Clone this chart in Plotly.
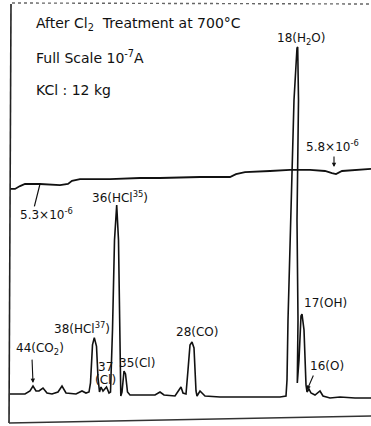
import plotly.graph_objects as go

# Mass spectrum trace: scan position (arb.) vs ion current (% of full scale)
scan_pos = [10, 25, 30, 33, 36, 39, 43, 47, 52, 58, 62, 66, 76, 82, 86, 89, 90.5, 92.5, 94.3, 96.5, 98,
            99.5, 101, 103, 106.5, 109, 110.5, 112.5, 114.5, 116.7, 118.5, 119.8, 120.8, 122, 124, 125.5,
            127.5, 130, 155, 160, 164, 175, 179, 181, 183, 186, 188, 190, 192, 194, 196, 197, 200, 203,
            205, 220, 250, 280, 286, 287, 288, 291, 292, 294, 297, 297.7, 298.5, 298, 297, 298, 297.3,
            299, 301, 302, 304, 306, 307, 309, 311, 315, 318, 320, 323, 330, 340, 355, 371]
ion_current = [0.29, 0.29, 1.15, 2.59, 1.15, 1.15, 2.01, 0.57, 0.29, 0.86, 2.59, 0.57, 0.29, 1.15, 0.57,
               0.86, 3.5, 14.4, 16.5, 14.0, 5.0, 0.86, 2.3, 1.15, 2.3, 0.57, 0.86, 18.7, 44.5, 54.6, 44.5,
               18.7, -0.29, 0.86, 6.9, 6.03, 0.86, 0.0, 0.0, 0.86, 0.0, -0.29, 1.44, 2.30, 0.57, 0.29,
               7.18, 14.37, 15.23, 13.51, 1.15, -0.29, 1.15, 0.29, -0.29, -0.57, -0.57, -0.57, -0.29,
               4.31, 21.55, 56.03, 70.4, 84.77, 99.71, 100.0, 84.77, 70.4, 50.29, 21.55, 3.45, 10.06,
               22.70, 23.28, 18.7, 2.87, 0.86, 1.72, 0.57, 0.0, 0.57, 1.15, -0.29, -0.86, -0.57, -0.86,
               -0.86]

# Total pressure trace (x10^-6)
press_pos = [10, 15, 20, 25, 40, 60, 68, 72, 80, 110, 140, 160, 200, 230, 236, 245, 270, 290, 310, 325,
             332, 336, 342, 355, 371]
pressure = [5.11, 5.11, 5.22, 5.30, 5.30, 5.26, 5.30, 5.42, 5.49, 5.49, 5.53, 5.53, 5.57, 5.57, 5.68,
            5.76, 5.80, 5.84, 5.84, 5.80, 5.72, 5.68, 5.80, 5.84, 5.88]

# Peak labels: (text, scan position, label height in % FS)
peak_labels = ["18(H<sub>2</sub>O)", "36(HCl<sup>35</sup>)", "38(HCl<sup>37</sup>)", "44(CO<sub>2</sub>)",
               "37", "(Cl)", "35(Cl)", "28(CO)", "17(OH)", "16(O)"]
label_pos = [301, 120, 81.5, 40, 105, 105, 137, 197, 325, 327]
label_height = [102.3, 56.9, 19.25, 13.2, 8.05, 4.31, 9.2, 18.1, 26.4, 8.33]

header_lines = ["After Cl<sub>2</sub>  Treatment at 700°C", "Full Scale 10<sup>-7</sup>A", "KCl : 12 kg"]

W, H = 371, 426
FONT = "DejaVu Sans"

fig = go.Figure()
fig.add_trace(go.Scatter(x=scan_pos, y=ion_current, mode="lines",
                         line=dict(color="#111111", width=1.6), hoverinfo="skip"))
fig.add_trace(go.Scatter(x=press_pos, y=pressure, mode="lines", yaxis="y2",
                         line=dict(color="#111111", width=1.8), hoverinfo="skip"))

annotations = []
for t, xp, yp in zip(peak_labels, label_pos, label_height):
    annotations.append(dict(x=xp, y=yp, xref="x", yref="y", text=t, showarrow=False,
                            font=dict(family=FONT, size=12, color="#111111"),
                            xanchor="center", yanchor="middle"))

for i, t in enumerate(header_lines):
    annotations.append(dict(x=34 / W, y=1 - (24 + i * 33) / H, xref="paper", yref="paper", text=t,
                            showarrow=False, font=dict(family=FONT, size=14, color="#111111"),
                            xanchor="left", yanchor="middle"))

# pressure value labels
annotations.append(dict(x=46, y=4.15, xref="x", yref="y2", text="5.3×10<sup>-6</sup>", showarrow=False,
                        font=dict(family=FONT, size=12, color="#111111")))
annotations.append(dict(x=332, y=6.76, xref="x", yref="y2", text="5.8×10<sup>-6</sup>", showarrow=False,
                        font=dict(family=FONT, size=12, color="#111111")))
# pointers
annotations.append(dict(x=40, y=5.30, xref="x", yref="y2", ax=34, ay=4.38, axref="x", ayref="y2",
                        text="", showarrow=True, arrowhead=0, arrowwidth=1.2, arrowcolor="#111111"))
annotations.append(dict(x=334, y=5.95, xref="x", yref="y2", ax=334, ay=6.42, axref="x", ayref="y2",
                        text="", showarrow=True, arrowhead=2, arrowsize=0.8, arrowwidth=1.1,
                        arrowcolor="#111111"))
annotations.append(dict(x=33, y=3.45, xref="x", yref="y", ax=32, ay=10.6, axref="x", ayref="y",
                        text="", showarrow=True, arrowhead=2, arrowsize=0.8, arrowwidth=1.1,
                        arrowcolor="#111111"))
annotations.append(dict(x=307, y=1.44, xref="x", yref="y", ax=314, ay=6.03, axref="x", ayref="y",
                        text="", showarrow=True, arrowhead=2, arrowsize=0.8, arrowwidth=1.1,
                        arrowcolor="#111111"))

shapes = [
    dict(type="line", xref="paper", yref="paper", x0=11 / W, y0=1 - 4 / H, x1=9 / W, y1=1 - 423 / H,
         line=dict(color="#222222", width=1.6)),
    dict(type="line", xref="paper", yref="paper", x0=12 / W, y0=1 - 3 / H, x1=1, y1=1 - 4 / H,
         line=dict(color="#666666", width=1.4, dash="dot")),
    dict(type="line", xref="paper", yref="paper", x0=9 / W, y0=1 - 423 / H, x1=1, y1=1 - 416 / H,
         line=dict(color="#333333", width=1.6)),
]

fig.update_layout(
    width=W, height=H, autosize=False,
    margin=dict(l=0, r=0, t=0, b=0),
    paper_bgcolor="white", plot_bgcolor="white",
    showlegend=False,
    xaxis=dict(range=[0, W], visible=False, fixedrange=True),
    yaxis=dict(range=[-8.908, 113.51], visible=False, fixedrange=True),
    yaxis2=dict(range=[-4.008, 12.377], overlaying="y", visible=False, fixedrange=True),
    annotations=annotations,
    shapes=shapes,
)

fig.write_html("out.html", config={"displayModeBar": False},
               post_script="document.body.style.margin='0';document.body.style.overflow='hidden';")
